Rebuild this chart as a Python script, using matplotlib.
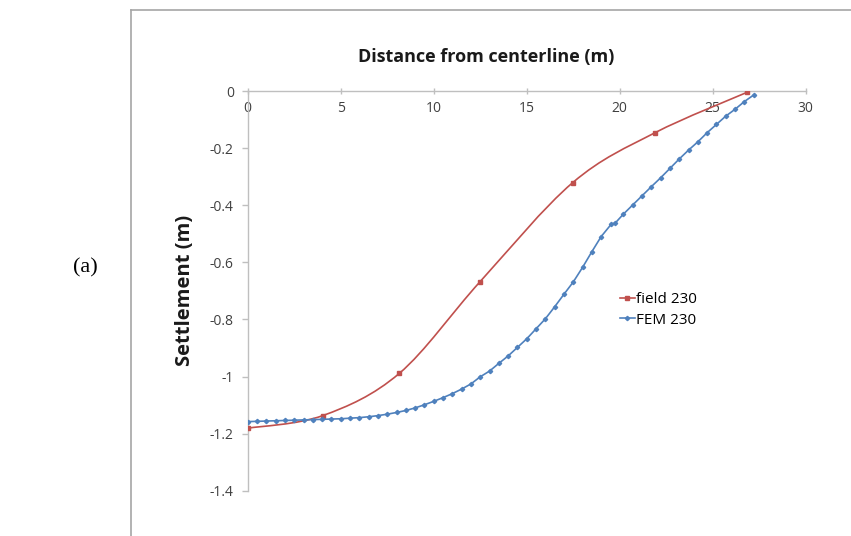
import matplotlib
matplotlib.use("Agg")
import matplotlib.pyplot as plt
import numpy as np
from matplotlib.path import Path
from matplotlib.patches import PathPatch
from matplotlib.lines import Line2D
from matplotlib.ticker import FormatStrFormatter

# field measurements (distance m, settlement m)
field_x = [0, 4.03, 8.15, 12.49, 17.47, 21.9, 26.83]
field_y = [-1.181, -1.137, -0.989, -0.668, -0.321, -0.146, -0.005]

# FEM results
fem_x = [0, 0.5, 1, 1.5, 2, 2.5, 3, 3.5, 4, 4.5, 5, 5.5, 6, 6.5, 7, 7.5, 8, 8.5,
         9, 9.5, 10, 10.5, 11, 11.5, 12, 12.5, 13, 13.5, 14, 14.5, 15, 15.5, 16,
         16.5, 17, 17.5, 18, 18.5, 19, 19.55, 19.75, 20.2, 20.7, 21.2, 21.7, 22.2,
         22.7, 23.2, 23.7, 24.2, 24.7, 25.2, 25.7, 26.2, 26.7, 27.2]
fem_y = [-1.158, -1.157, -1.156, -1.155, -1.154, -1.153, -1.152, -1.151, -1.150,
         -1.149, -1.148, -1.146, -1.144, -1.141, -1.137, -1.132, -1.126, -1.119,
         -1.110, -1.099, -1.087, -1.074, -1.060, -1.044, -1.026, -1.001, -0.981,
         -0.954, -0.928, -0.898, -0.868, -0.833, -0.798, -0.756, -0.712, -0.669,
         -0.618, -0.563, -0.510, -0.466, -0.463, -0.431, -0.399, -0.367, -0.335,
         -0.304, -0.271, -0.238, -0.207, -0.178, -0.146, -0.117, -0.088, -0.064,
         -0.037, -0.014]

x_ticks = [0, 5, 10, 15, 20, 25, 30]
y_ticks = [0, -0.2, -0.4, -0.6, -0.8, -1, -1.2, -1.4]

red = "#c0504d"
blue = "#4f81bd"
axis_grey = "#bfbfbf"
tick_col = "#404040"


def smooth_path(xs, ys):
    # excel-like smoothed line: catmull-rom turned into cubic beziers
    pts = np.column_stack([xs, ys]).astype(float)
    verts = [pts[0]]
    codes = [Path.MOVETO]
    n = len(pts)
    for i in range(n - 1):
        p0 = pts[i - 1] if i > 0 else pts[i]
        p1 = pts[i]
        p2 = pts[i + 1]
        p3 = pts[i + 2] if i + 2 < n else pts[i + 1]
        c1 = p1 + (p2 - p0) / 6.0
        c2 = p2 - (p3 - p1) / 6.0
        verts += [c1, c2, p2]
        codes += [Path.CURVE4] * 3
    return Path(verts, codes)


fig = plt.figure(figsize=(8.51, 5.36), dpi=100)
ax = fig.add_axes([0.2911, 0.0845, 0.6557, 0.7457])

ax.add_patch(PathPatch(smooth_path(field_x, field_y), facecolor="none",
                       edgecolor=red, lw=1.2, zorder=3))
ax.plot(field_x, field_y, ls="none", marker="s", ms=3.5, color=red, zorder=4)
ax.plot(fem_x, fem_y, color=blue, lw=1.2, marker="D", ms=2.2, zorder=5)

ax.set_xlim(0, 30)
ax.set_ylim(-1.4, 0)
ax.set_xticks(x_ticks)
ax.set_yticks(y_ticks)
ax.yaxis.set_major_formatter(FormatStrFormatter("%g"))

ax.spines["top"].set_visible(False)
ax.spines["right"].set_visible(False)
ax.spines["bottom"].set_position(("data", 0))
for s in ["left", "bottom"]:
    ax.spines[s].set_color(axis_grey)
    ax.spines[s].set_linewidth(1.0)
ax.tick_params(axis="both", colors=axis_grey, labelcolor=tick_col,
               labelsize=10, length=4, width=1)
ax.tick_params(axis="x", direction="inout", pad=5)
ax.tick_params(axis="y", pad=6)
for lab in ax.get_xticklabels() + ax.get_yticklabels():
    lab.set_family("Open Sans")

fig.text(0.571, 0.894, "Distance from centerline (m)", ha="center", va="center",
         fontsize=13, fontweight="bold", family="Open Sans", color="#1a1a1a")
fig.text(0.2174, 0.459, "Settlement (m)", ha="center", va="center", rotation=90,
         fontsize=14.5, fontweight="bold", family="Open Sans", color="#1a1a1a")
fig.text(0.1, 0.5, "(a)", ha="center", va="center", fontsize=16,
         family="Liberation Serif", color="black")

handles = [Line2D([], [], color=red, lw=1.2, marker="s", ms=3.5),
           Line2D([], [], color=blue, lw=1.2, marker="D", ms=2.2)]
fig.legend(handles, ["field 230", "FEM 230"], loc="upper left",
           bbox_to_anchor=(0.712, 0.48), frameon=False, handlelength=1.0,
           handletextpad=0.1, labelspacing=0.35,
           prop={"family": "Open Sans", "size": 11})

# outer chart frame (left and top edges visible)
fig.add_artist(Line2D([131 / 851, 131 / 851], [0, 1 - 10 / 536],
                      transform=fig.transFigure, color="#a6a6a6", lw=1.2))
fig.add_artist(Line2D([131 / 851, 1], [1 - 10 / 536, 1 - 10 / 536],
                      transform=fig.transFigure, color="#a6a6a6", lw=1.2))

fig.savefig("out.png", dpi=100)
